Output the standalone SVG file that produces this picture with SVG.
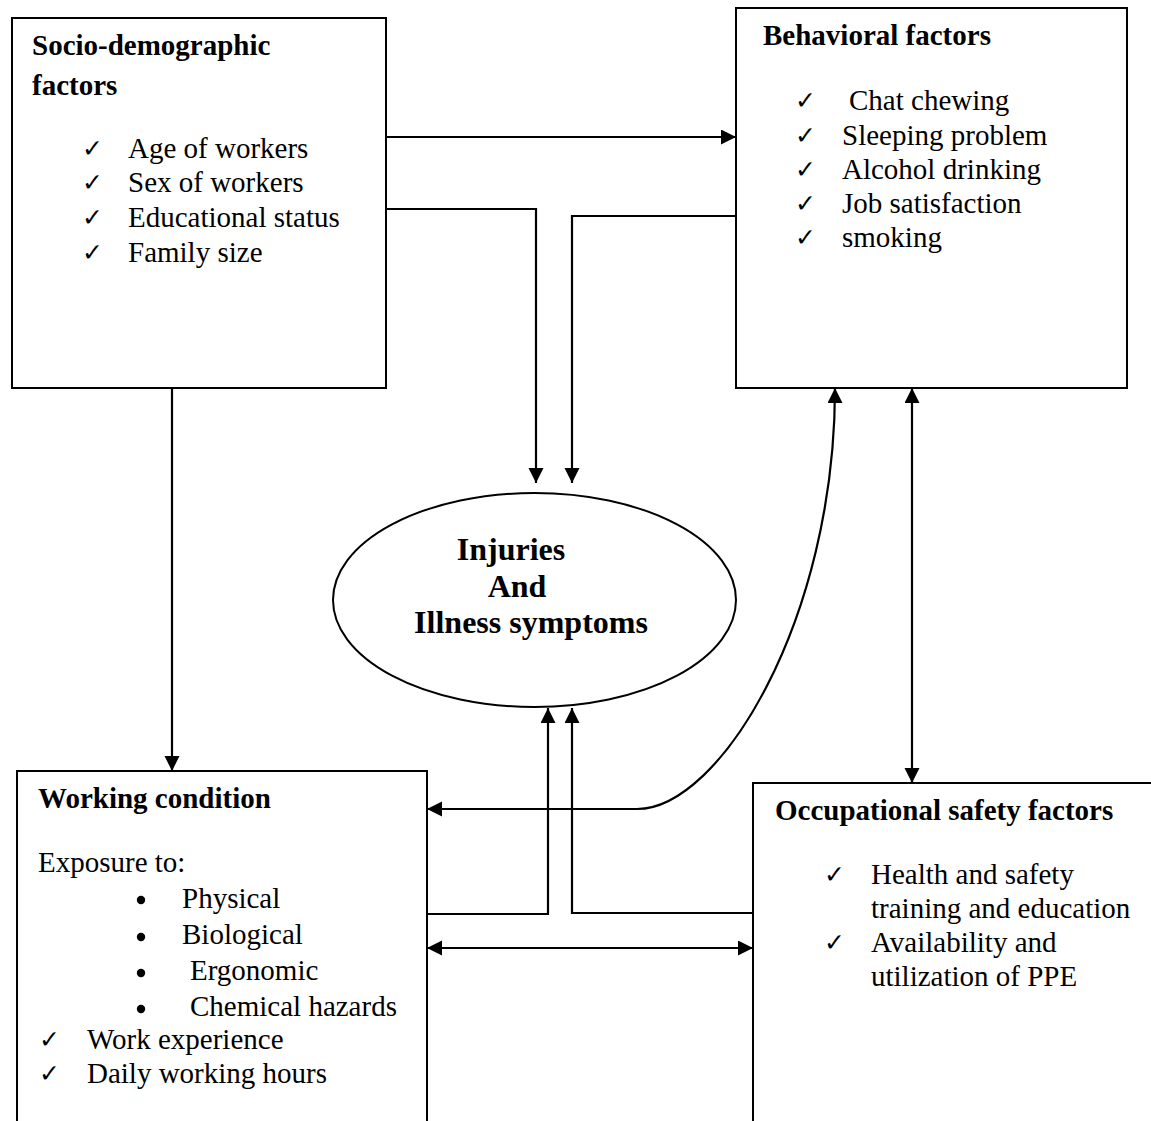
<svg xmlns="http://www.w3.org/2000/svg" width="1151" height="1121" viewBox="0 0 1151 1121">
<style>
.box{fill:#fff;stroke:#000;stroke-width:2}
.ell{fill:#fff;stroke:#000;stroke-width:2}
.h{font-family:"Liberation Serif","Times New Roman",serif;font-weight:bold;font-size:29px;fill:#000}
.t{font-family:"Liberation Serif","Times New Roman",serif;font-size:29px;fill:#000}
.c{font-family:"DejaVu Sans",sans-serif;font-size:25px;fill:#000}
.e{font-family:"Liberation Serif","Times New Roman",serif;font-weight:bold;font-size:32px;fill:#000;text-anchor:middle}
.ln{fill:none;stroke:#000;stroke-width:2.2}
</style>
<defs>
<marker id="ah" markerUnits="userSpaceOnUse" markerWidth="16" markerHeight="16" refX="15" refY="7.5" orient="auto-start-reverse" viewBox="0 0 16 16">
<path d="M0,0 L15,7.5 L0,15 z" fill="#000"/>
</marker>
</defs>
<rect width="1151" height="1121" fill="#fff"/>
<g id="socio">
<rect class="box" x="12" y="18" width="374" height="370"/>
<text class="h" x="32" y="55">Socio-demographic</text>
<text class="h" x="32" y="95">factors</text>
<text class="c" x="82" y="157">✓</text><text class="t" x="128" y="158">Age of workers</text>
<text class="c" x="82" y="191">✓</text><text class="t" x="128" y="192">Sex of workers</text>
<text class="c" x="82" y="226">✓</text><text class="t" x="128" y="227">Educational status</text>
<text class="c" x="82" y="261">✓</text><text class="t" x="128" y="262">Family size</text>
</g>
<g id="behavioral">
<rect class="box" x="736" y="8" width="391" height="380"/>
<text class="h" x="763" y="45">Behavioral factors</text>
<text class="c" x="795" y="109">✓</text><text class="t" x="849" y="110">Chat chewing</text>
<text class="c" x="795" y="144">✓</text><text class="t" x="842" y="145">Sleeping problem</text>
<text class="c" x="795" y="178">✓</text><text class="t" x="842" y="179">Alcohol drinking</text>
<text class="c" x="795" y="212">✓</text><text class="t" x="842" y="213">Job satisfaction</text>
<text class="c" x="795" y="246">✓</text><text class="t" x="842" y="247">smoking</text>
</g>
<g id="outcome">
<ellipse class="ell" cx="534.5" cy="600" rx="201.5" ry="107"/>
<text class="e" x="511" y="560">Injuries</text>
<text class="e" x="517" y="597">And</text>
<text class="e" x="531" y="633">Illness symptoms</text>
</g>
<g id="working">
<rect class="box" x="17" y="771" width="410" height="400"/>
<text class="h" x="38" y="808">Working condition</text>
<text class="t" x="38" y="872">Exposure to:</text>
<circle cx="141" cy="900" r="4.2"/><text class="t" x="182" y="908">Physical</text>
<circle cx="141" cy="937" r="4.2"/><text class="t" x="182" y="944">Biological</text>
<circle cx="141" cy="973" r="4.2"/><text class="t" x="190" y="980">Ergonomic</text>
<circle cx="141" cy="1009" r="4.2"/><text class="t" x="190" y="1016">Chemical hazards</text>
<text class="c" x="39" y="1048">✓</text><text class="t" x="87" y="1049">Work experience</text>
<text class="c" x="39" y="1082">✓</text><text class="t" x="87" y="1083">Daily working hours</text>
</g>
<g id="safety">
<rect class="box" x="753" y="783" width="420" height="400"/>
<text class="h" x="775" y="820">Occupational safety factors</text>
<text class="c" x="824" y="883">✓</text><text class="t" x="871" y="884">Health and safety</text>
<text class="t" x="871" y="918">training and education</text>
<text class="c" x="824" y="951">✓</text><text class="t" x="871" y="952">Availability and</text>
<text class="t" x="871" y="986">utilization of PPE</text>
</g>
<g id="connectors">
<path class="ln" d="M386,137 H736" marker-end="url(#ah)"/>
<path class="ln" d="M386,209 H536 V483" marker-end="url(#ah)"/>
<path class="ln" d="M736,216 H572 V483" marker-end="url(#ah)"/>
<path class="ln" d="M172,388 V771" marker-end="url(#ah)"/>
<path class="ln" d="M427,809 H637 C720,809 835,620 835,388" marker-start="url(#ah)" marker-end="url(#ah)"/>
<path class="ln" d="M912,388 V783" marker-start="url(#ah)" marker-end="url(#ah)"/>
<path class="ln" d="M427,914 H548 V708" marker-end="url(#ah)"/>
<path class="ln" d="M753,913 H572 V708" marker-end="url(#ah)"/>
<path class="ln" d="M427,948 H753" marker-start="url(#ah)" marker-end="url(#ah)"/>
</g>
</svg>
